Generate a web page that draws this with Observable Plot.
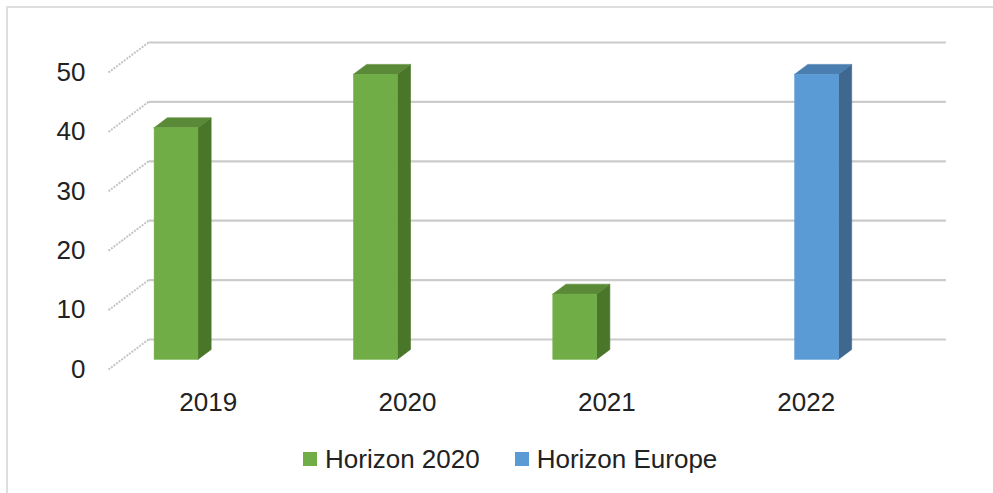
<!DOCTYPE html>
<html><head><meta charset="utf-8">
<script src="https://cdn.jsdelivr.net/npm/d3@7"></script>
<script src="https://cdn.jsdelivr.net/npm/@observablehq/plot@0.6"></script>
<style>
html,body{margin:0;padding:0;background:#fff;overflow:hidden;width:993px;height:493px;}
#frame{position:absolute;left:6px;top:6px;width:1100px;height:600px;border-left:2px solid #dedede;border-top:2px solid #dedede;}
#chart{position:absolute;left:0;top:0;}
#legend{position:absolute;left:303px;top:446px;display:flex;align-items:center;font-family:"Liberation Sans",Arial,sans-serif;font-size:26px;line-height:26px;color:#222;white-space:nowrap;}
.item{display:flex;align-items:center;margin-right:35px}
.sw{width:14px;height:14px;margin-right:8px;flex:none}
</style></head><body>
<div id="frame"></div><div id="chart"></div><div id="legend"></div>
<script>
const years = ["2019", "2020", "2021", "2022"];
const series = ["Horizon 2020", "Horizon Europe"];
const horizon2020 = [39, 48, 11, null];
const horizonEurope = [null, null, null, 48];
const yTicks = [0, 10, 20, 30, 40, 50];

const frontColors = ["#70ad47", "#5b9bd5"];
const topColors = ["#5a8a37", "#4a7eb0"];
const sideColors = ["#4a7629", "#3e6890"];

// layout & 3D projection constants
const W = 993, H = 430, mL = 108, mR = 87.6, mT = 72, mB = 61;
const xPx = (W - mL - mR) / 4;
const yPx = (H - mT - mB) / 50;
const DX = 40 / xPx, DY = 30 / yPx;       // shift for full floor depth
const zFront = 0.32, zBack = 0.65;        // bar depth range
const slot0 = 0.167, slotStep = 0.213, barW = 0.22;

const valuesBySeries = [horizon2020, horizonEurope];
const bars = [];
years.forEach((year, i) => {
  series.forEach((name, s) => {
    const v = valuesBySeries[s][i];
    if (v == null) return;
    const x0 = i + slot0 + s * slotStep;
    bars.push({id: year + name, year, name, i, s, v, x0, x1: x0 + barW});
  });
});

const front = bars.map(b => ({...b,
  fx1: b.x0 + zFront * DX, fx2: b.x1 + zFront * DX,
  fy1: zFront * DY, fy2: b.v + zFront * DY}));
const sidePts = bars.flatMap(b => [zFront, zBack].map(z => ({
  id: b.id, s: b.s, x: b.x1 + z * DX, y1: z * DY, y2: b.v + z * DY})));
const topPts = bars.flatMap(b => [zFront, zBack].map(z => ({
  id: b.id, s: b.s, y: b.v + z * DY, x1: b.x0 + z * DX, x2: b.x1 + z * DX})));

const grid = yTicks.map(t => ({t, x1: DX, x2: 4 + DX, y: t + DY}));
const diag = yTicks.map(t => ({t, x1: 0, y1: t, x2: DX, y2: t + DY}));

const faceMarks = series.flatMap((name, s) => [
  Plot.areaY(sidePts.filter(d => d.s === s), {x: "x", y1: "y1", y2: "y2", z: "id", fill: sideColors[s], stroke: sideColors[s], strokeWidth: 0.6, curve: "linear"}),
  Plot.areaX(topPts.filter(d => d.s === s), {y: "y", x1: "x1", x2: "x2", z: "id", fill: topColors[s], stroke: topColors[s], strokeWidth: 0.6, curve: "linear"}),
  Plot.rect(front.filter(d => d.s === s), {x1: "fx1", x2: "fx2", y1: "fy1", y2: "fy2", fill: frontColors[s], stroke: frontColors[s], strokeWidth: 0.5})
]);

const chart = Plot.plot({
  width: W, height: H,
  marginLeft: mL, marginRight: mR, marginTop: mT, marginBottom: mB,
  x: {type: "linear", domain: [0, 4], label: null},
  y: {type: "linear", domain: [0, 50], label: null},
  style: {fontFamily: "'Liberation Sans', Arial, sans-serif", fontSize: "26px", color: "#222", background: "transparent", overflow: "visible"},
  marks: [
    Plot.link(grid, {x1: "x1", x2: "x2", y1: "y", y2: "y", stroke: "#cbcbcb", strokeWidth: 2.2}),
    Plot.link(diag, {x1: "x1", x2: "x2", y1: "y1", y2: "y2", stroke: "#c4c4c4", strokeWidth: 2, strokeDasharray: "2 1.2"}),
    ...faceMarks,
    Plot.axisY({ticks: yTicks, tickSize: 0, tickPadding: 23, fontSize: 26, tickFormat: d => String(d)}),
    Plot.axisX({ticks: years.map((y, i) => i + 0.5), tickSize: 0, tickPadding: 22.7, fontSize: 26, tickFormat: d => years[Math.floor(d)]})
  ]
});
document.getElementById("chart").append(chart);

const legend = d3.select("#legend");
series.forEach((name, s) => {
  const item = legend.append("div").attr("class", "item");
  item.append("div").attr("class", "sw").style("background", frontColors[s]);
  item.append("span").text(name);
});
</script>
</body></html>
